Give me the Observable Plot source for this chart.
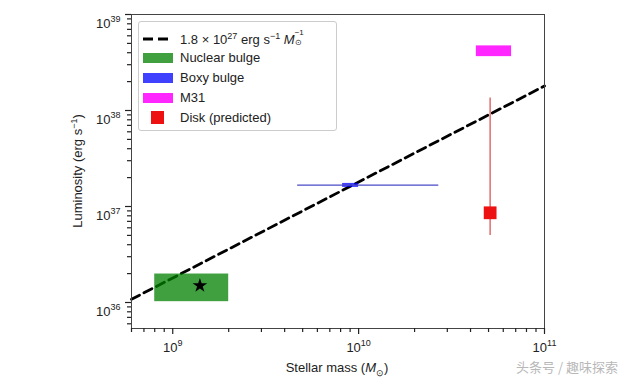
<!DOCTYPE html>
<html><head><meta charset="utf-8">
<script src="https://cdn.jsdelivr.net/npm/d3@7"></script>
<script src="https://cdn.jsdelivr.net/npm/@observablehq/plot@0.6"></script>
<style>
body{margin:0;background:#fff;font-family:"Liberation Sans",Arial,sans-serif;color:#222;}
#wrap{position:relative;width:640px;height:381px;overflow:hidden;}
.lab{position:absolute;font-size:13px;white-space:nowrap;}
#legend{position:absolute;left:138px;top:21px;width:197px;height:108px;border:1px solid #ccc;border-radius:3px;background:#fff;}
.row{position:absolute;left:0;height:20px;width:100%;}
.sw{position:absolute;left:4px;top:5px;width:30px;height:10px;}
.txt{position:absolute;left:41px;top:2px;font-size:13px;white-space:nowrap;}
#wm{position:absolute;left:516px;top:357px;font-family:"Noto Sans CJK SC",sans-serif;font-size:13px;color:#b8b8b8;white-space:nowrap;}
</style></head><body><div id="wrap"></div>
<script>
// ---- data ----
const xMajorTicks = [1e9, 1e10, 1e11];
const xMajorLabels = ["10^9", "10^10", "10^11"];
const yMajorTicks = [1e36, 1e37, 1e38, 1e39];
const yMajorLabels = ["10^36", "10^37", "10^38", "10^39"];

const relMass = [6e8, 1e11];          // dashed relation endpoints
const relLum = [1.08e36, 1.8e38];     // 1.8e27 erg/s per Msun

const nuclearMass = [8e8, 2e9];
const nuclearLum = [1.02e36, 1.98e36];
const starMass = [1.4e9];
const starLum = [1.5e36];

const boxyRangeMass = [4.7e9, 2.7e10];
const boxyLumLine = [1.67e37];
const boxyMass = [8.2e9, 1.0e10];
const boxyLum = [1.58e37, 1.74e37];

const m31Mass = [4.3e10, 6.65e10];
const m31Lum = [3.64e38, 4.71e38];

const diskMass = [5.1e10];
const diskLum = [8.6e36];
const diskLumRange = [5.0e36, 1.35e38];

// minor log ticks
const xMinor = [], yMinor = [];
for (let e = 8; e <= 10; e++) for (let k = 2; k <= 9; k++) { const v = k * Math.pow(10, e); if (v >= 6e8 && v <= 1e11) xMinor.push(v); }
for (let e = 35; e <= 38; e++) for (let k = 2; k <= 9; k++) { const v = k * Math.pow(10, e); if (v >= 5.36e35 && v <= 1e39) yMinor.push(v); }

const relData = relMass.map((m, i) => ({m, l: relLum[i]}));
const rects = [
  {x1: nuclearMass[0], x2: nuclearMass[1], y1: nuclearLum[0], y2: nuclearLum[1], c: "green", o: 0.75},
  {x1: boxyMass[0], x2: boxyMass[1], y1: boxyLum[0], y2: boxyLum[1], c: "blue", o: 0.75},
  {x1: m31Mass[0], x2: m31Mass[1], y1: m31Lum[0], y2: m31Lum[1], c: "magenta", o: 0.85}
];
const xLab = new Map(xMajorTicks.map((t, i) => [t, xMajorLabels[i]]));
const yLab = new Map(yMajorTicks.map((t, i) => [t, yMajorLabels[i]]));

const chart = Plot.plot({
  width: 640, height: 381,
  marginLeft: 131, marginRight: 96, marginTop: 14, marginBottom: 53,
  style: {fontFamily: "Liberation Sans, Arial, sans-serif", fontSize: "13px", color: "#222", background: "#fff"},
  x: {type: "log", domain: [6e8, 1e11]},
  y: {type: "log", domain: [5.36e35, 1e39]},
  marks: [
    Plot.line(relData, {x: "m", y: "l", stroke: "#000", strokeWidth: 2.8, strokeDasharray: "9,5"}),
    Plot.rect(rects, {x1: "x1", x2: "x2", y1: "y1", y2: "y2", fill: d => d.c, fillOpacity: d => d.o}),
    Plot.dot(starMass.map((m, i) => ({m, l: starLum[i]})), {x: "m", y: "l", symbol: "star", r: 4.6, fill: "#000", stroke: "none"}),
    Plot.ruleY(boxyLumLine.map(l => ({l, a: boxyRangeMass[0], b: boxyRangeMass[1]})), {y: "l", x1: "a", x2: "b", stroke: "#4a4ac8", strokeWidth: 1.1}),
    Plot.ruleX(diskMass.map(m => ({m, a: diskLumRange[0], b: diskLumRange[1]})), {x: "m", y1: "a", y2: "b", stroke: "#e07878", strokeWidth: 1.6}),
    Plot.dot(diskMass.map((m, i) => ({m, l: diskLum[i]})), {x: "m", y: "l", symbol: "square", r: 7.2, fill: "#ee1111", stroke: "none"}),
    Plot.frame({stroke: "#444", strokeWidth: 1}),
    Plot.axisX({ticks: xMinor, tickSize: 4, strokeWidth: 1.2, tickFormat: () => "", label: null, stroke: "#222"}),
    Plot.axisX({ticks: xMajorTicks, tickSize: 6, strokeWidth: 1.2, tickPadding: 8, tickFormat: d => xLab.get(d), label: null, stroke: "#222", fill: "#222"}),
    Plot.axisY({ticks: yMinor, tickSize: 4, strokeWidth: 1.2, tickFormat: () => "", label: null, stroke: "#222"}),
    Plot.axisY({ticks: yMajorTicks, tickSize: 6, strokeWidth: 1.2, tickPadding: 5, tickFormat: d => yLab.get(d), label: null, stroke: "#222", fill: "#222"})
  ]
});

// superscript formatting of tick labels
d3.select(chart).selectAll("text").each(function () {
  const s = d3.select(this);
  const t = s.text();
  if (!t.includes("^")) return;
  const [base, sup] = t.split("^");
  s.text(null);
  const isY = s.attr("text-anchor") === "end" || (this.parentNode && d3.select(this.parentNode).attr("text-anchor") === "end");
  if (isY) s.attr("dy", "0.72em");
  s.append("tspan").text(base);
  s.append("tspan").attr("dy", "-6").attr("font-size", "9px").text(sup);
});

const wrap = document.getElementById("wrap");
wrap.appendChild(chart);

wrap.insertAdjacentHTML("beforeend", `
<div class="lab" style="left:337px;top:360px;transform:translateX(-50%);font-size:13px;">Stellar mass (<i>M</i><sub style="font-size:9px">⊙</sub>)</div>
<div class="lab" style="left:77px;top:171px;transform:translate(-50%,-50%) rotate(-90deg);font-size:13px;">Luminosity (erg s<sup style="font-size:9px">−1</sup>)</div>
<div id="legend">
  <div class="row" style="top:7px"><svg class="sw" style="top:4px;height:12px" width="30" height="12"><line x1="0" x2="30" y1="6" y2="6" stroke="#000" stroke-width="2.8" stroke-dasharray="10,5"/></svg>
  <div class="txt">1.8 × 10<sup style="font-size:9px">27</sup> erg s<sup style="font-size:9px">−1</sup> <i>M</i><span style="position:relative;display:inline-block;width:12px;height:10px;"><span style="position:absolute;left:0;top:-6px;font-size:8px;">−1</span><span style="position:absolute;left:0;top:5px;font-size:8px;line-height:8px;">⊙</span></span></div></div>
  <div class="row" style="top:26px"><div class="sw" style="background:rgba(0,128,0,0.75)"></div><div class="txt">Nuclear bulge</div></div>
  <div class="row" style="top:46px"><div class="sw" style="background:rgba(0,0,255,0.75)"></div><div class="txt">Boxy bulge</div></div>
  <div class="row" style="top:66px"><div class="sw" style="background:rgba(255,0,255,0.85)"></div><div class="txt">M31</div></div>
  <div class="row" style="top:86px"><div class="sw" style="left:12px;top:3px;width:13px;height:13px;background:#ee1111"></div><div class="txt">Disk (predicted)</div></div>
</div>
<div id="wm">头条号 / 趣味探索</div>
`);
</script>
</body></html>
